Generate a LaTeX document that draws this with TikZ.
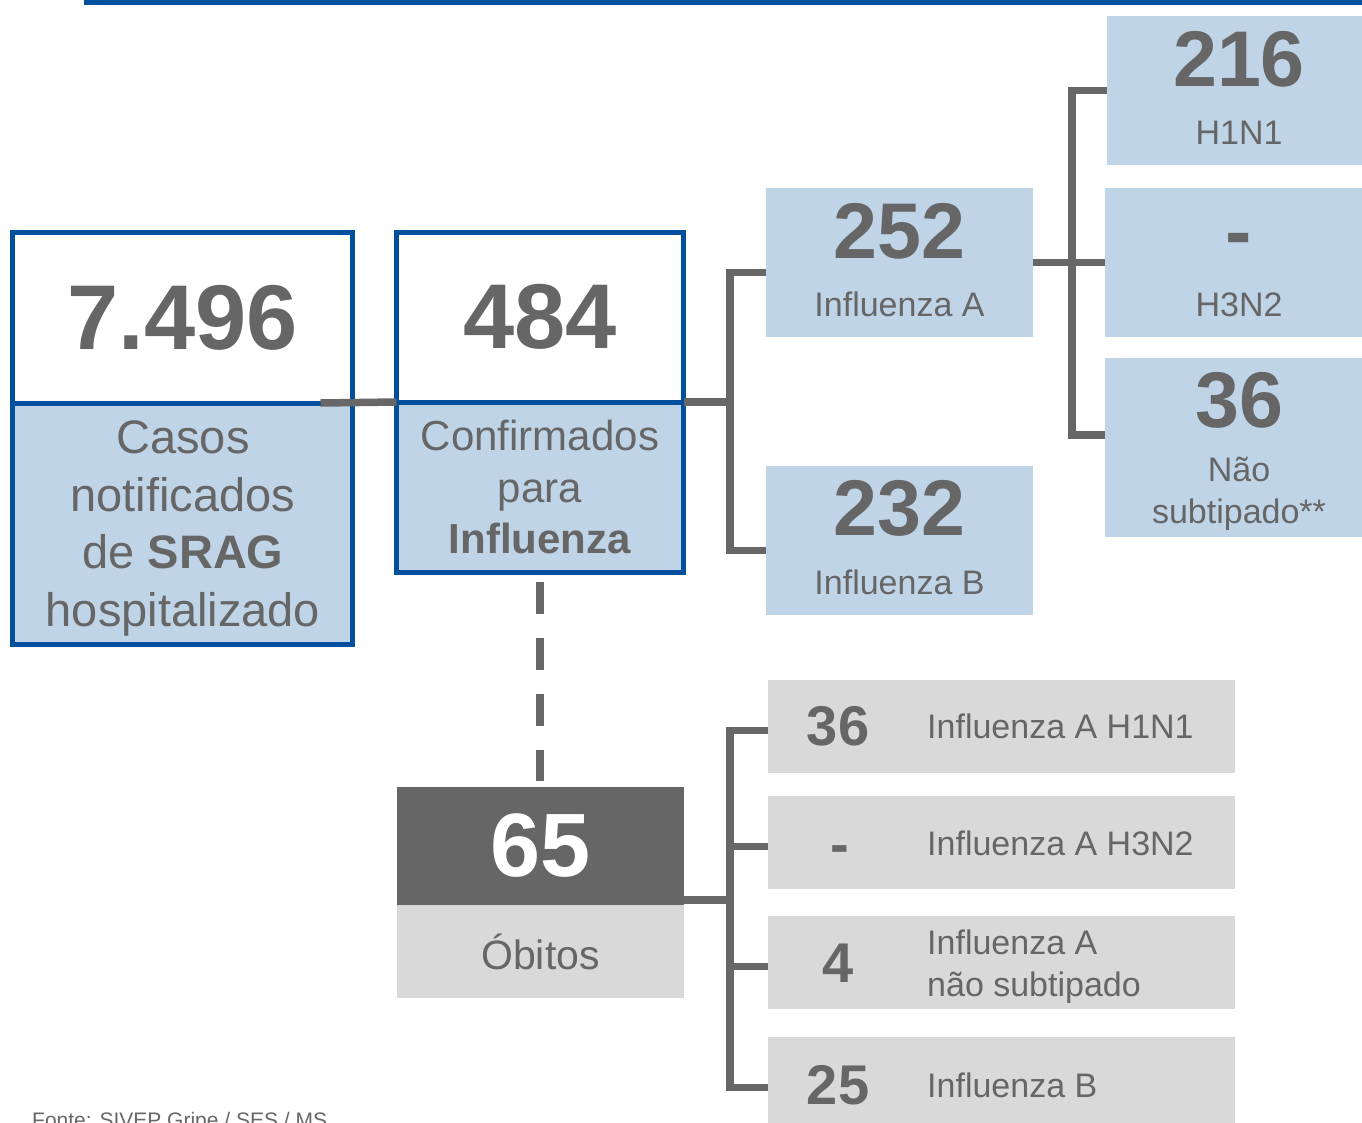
\documentclass[tikz,border=0pt]{standalone}
\usepackage{fontspec}
\setmainfont{Liberation Sans}
\usepackage{xcolor}
\usepackage{tikz}
\definecolor{sesblue}{HTML}{00509E}
\definecolor{boxblue}{HTML}{C0D4E7}
\definecolor{boxgray}{HTML}{D9D9D9}
\definecolor{textgray}{HTML}{666666}
\definecolor{linkgray}{HTML}{676767}
\newcommand{\numfont}[1]{\fontsize{#1}{#1}\selectfont\bfseries}
\newcommand{\txtfont}[2]{\fontsize{#1}{#2}\selectfont}
\tikzset{
    base_box/.style = {rectangle, inner sep=0pt, outer sep=0pt, anchor=north west, align=center, text=textgray},
    frame_box/.style = {base_box, draw=sesblue, line width=5pt},
    blue_box/.style = {base_box, fill=boxblue},
    gray_box/.style = {base_box, fill=boxgray, minimum width=467pt, minimum height=93pt},
    dark_box/.style = {base_box, fill=textgray, text=white},
    big_num/.style = {inner sep=0pt, text=textgray, font=\numfont{79}},
    small_num/.style = {inner sep=0pt, text=textgray, font=\numfont{56}},
    lbl_text/.style = {inner sep=0pt, text=textgray, font=\txtfont{34}{42}, align=center, anchor=base},
    row_text/.style = {lbl_text, align=left, anchor=base west},
    link_line/.style = {draw=linkgray, line width=7.5pt}
}

\begin{document}
\begin{tikzpicture}[x=1pt, y=-1pt]
    \useasboundingbox (0,0) rectangle (1362,1122);
    \fill[sesblue] (84,0) rectangle (1362,4.5);

    % notified and confirmed cases
    \node[frame_box, minimum width=340pt, minimum height=170.5pt, font=\numfont{92}] (casosnum) at (12.5,232.5) {7.496};
    \node[frame_box, fill=boxblue, minimum width=340pt, minimum height=241.5pt] (casoslbl) at (12.5,403) {};
    \node[lbl_text, font=\txtfont{47}{57.5}] (casostxt) at (183,626) {Casos\\notificados\\de \textbf{SRAG}\\hospitalizado};
    \node[frame_box, minimum width=287pt, minimum height=169.5pt, font=\numfont{92}] (confnum) at (396.5,232.5) {484};
    \node[frame_box, fill=boxblue, minimum width=287pt, minimum height=170.5pt, font=\txtfont{42}{51.5}] (conflbl) at (396.5,402)
        {Confirmados\\para\\\textbf{Influenza}};
    \draw[link_line] ([xshift=-32pt]casosnum.south east) -- (confnum.south west);

    % types
    \node[blue_box, minimum width=267pt, minimum height=149pt] (fluA) at (766,188) {};
    \node[big_num] (fluAnum) at (899.5,231.5) {252};
    \node[lbl_text] (fluAlbl) at (899.5,316) {Influenza A};
    \node[blue_box, minimum width=267pt, minimum height=149pt] (fluB) at (766,466) {};
    \node[big_num] (fluBnum) at (899.5,508.5) {232};
    \node[lbl_text] (fluBlbl) at (899.5,594) {Influenza B};
    \coordinate (hub1) at (730,402);
    \draw[link_line] (confnum.south east) -- (hub1);
    \draw[link_line] ([yshift=-10pt]fluA.west) -| (hub1) |- ([yshift=-10pt]fluB.west);

    % subtypes
    \node[blue_box, minimum width=255pt, minimum height=149pt] (h1n1) at (1107,16) {};
    \node[big_num] (h1n1num) at (1239,59.5) {216};
    \node[lbl_text] (h1n1lbl) at (1239,144) {H1N1};
    \node[blue_box, minimum width=257pt, minimum height=149pt] (h3n2) at (1105,188) {};
    \node[big_num] (h3n2num) at (1239,245.5) {-};
    \node[lbl_text] (h3n2lbl) at (1239,316) {H3N2};
    \node[blue_box, minimum width=257pt, minimum height=179pt] (nsub) at (1105,358) {};
    \node[big_num] (nsubnum) at (1239,400) {36};
    \node[lbl_text] (nsublbl) at (1239,523) {Não\\subtipado**};
    \coordinate (hub2) at (1072,262.5);
    \draw[link_line] (fluA.east) -- (h3n2.west);
    \draw[link_line] (h1n1.west) -| (hub2) |- ([yshift=12.5pt]nsub.west);

    % deaths
    \draw[link_line, line width=8pt, dash pattern=on 32pt off 24pt] (conflbl.south) ++(0,9.5) coordinate (dashtop) -- (540,781);
    \node[dark_box, minimum width=287pt, minimum height=118pt, font=\numfont{90}] (obnum) at (397,787) {65};
    \node[base_box, fill=boxgray, minimum width=287pt, minimum height=93pt, font=\txtfont{41}{41}] (oblbl) at (397,905) {Óbitos};

    \node[gray_box] (g1) at (768,680) {};
    \node[small_num] (g1num) at (838,726.5) {36};
    \node[row_text] (g1lbl) at (927,738) {Influenza A H1N1};
    \node[gray_box] (g2) at (768,796) {};
    \node[small_num] (g2num) at (840,855) {-};
    \node[row_text] (g2lbl) at (927,855) {Influenza A H3N2};
    \node[gray_box] (g3) at (768,916) {};
    \node[small_num] (g3num) at (838,963) {4};
    \node[row_text] (g3lbl) at (927,996) {Influenza A\\não subtipado};
    \node[gray_box] (g4) at (768,1037) {};
    \node[small_num] (g4num) at (838,1085) {25};
    \node[row_text] (g4lbl) at (927,1097) {Influenza B};
    \coordinate (hub3) at (730,900);
    \draw[link_line] ([yshift=5pt]obnum.south east) -- (hub3);
    \draw[link_line] ([yshift=-4pt]g1.west) -| (hub3) |- ([yshift=-4pt]g4.west);
    \draw[link_line] ([yshift=-4pt]g2.west) -- ([yshift=-4pt]g2.west -| hub3);
    \draw[link_line] ([yshift=-4pt]g3.west) -- ([yshift=-4pt]g3.west -| hub3);

    \node[inner sep=0pt, anchor=base west, text=textgray, font=\txtfont{21}{21}] (fonte) at (32,1127) {Fonte: SIVEP Gripe / SES / MS};
\end{tikzpicture}
\end{document}
